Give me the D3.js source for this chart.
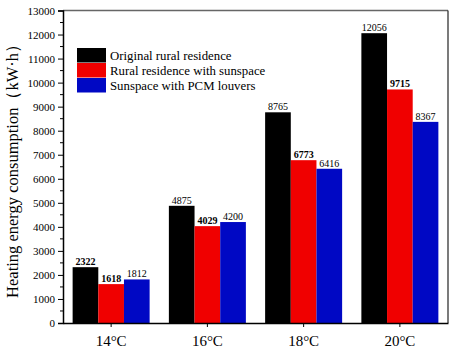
<!DOCTYPE html>
<html>
<head>
<meta charset="utf-8">
<script src="https://cdn.jsdelivr.net/npm/d3@7"></script>
<style>
  body { margin: 0; background: #fff; }
  svg text { font-family: "Liberation Serif", "Times New Roman", serif; }
</style>
</head>
<body>
<svg id="chart" width="454" height="359"></svg>
<script>
// data
var temps = ["14°C", "16°C", "18°C", "20°C"];
var series = ["Original rural residence", "Rural residence with sunspace", "Sunspace with PCM louvers"];
var original = [2322, 4875, 8765, 12056];
var sunspace = [1618, 4029, 6773, 9715];
var pcm = [1812, 4200, 6416, 8367];
var yTicks = [0, 1000, 2000, 3000, 4000, 5000, 6000, 7000, 8000, 9000, 10000, 11000, 12000, 13000];

var colors = ["#000000", "#f00000", "#0008c4"];
var values = [original, sunspace, pcm];

var svg = d3.select("#chart");
// plot box (note: "top" is taken by window.top, so use other names)
var padL = 63, padR = 448, padT = 10.5, padB = 323;

var x = d3.scaleBand().domain(temps).range([padL, padR]).padding(0);
var bw = x.bandwidth();
var xs = d3.scaleBand().domain(series).range([bw * 0.1, bw * 0.9]).padding(0);
var y = d3.scaleLinear().domain([0, 13000]).range([padB, padT]);

// frame (top and right)
svg.append("line").attr("x1", padL).attr("x2", padR).attr("y1", padT).attr("y2", padT)
  .attr("stroke", "#666").attr("stroke-width", 1.5);
svg.append("line").attr("x1", padR).attr("x2", padR).attr("y1", padT).attr("y2", padB)
  .attr("stroke", "#222").attr("stroke-width", 1.2);

// bars
var rows = [];
temps.forEach(function(t, i) {
  series.forEach(function(s, j) {
    rows.push({t: t, s: s, j: j, v: values[j][i]});
  });
});

svg.append("g").selectAll("rect").data(rows).join("rect")
  .attr("x", function(d) { return x(d.t) + xs(d.s); })
  .attr("y", function(d) { return y(d.v); })
  .attr("width", xs.bandwidth())
  .attr("height", function(d) { return padB - y(d.v); })
  .attr("fill", function(d) { return colors[d.j]; });

// value labels (some of them are bold in the original)
var boldOnes = [2322, 1618, 4029, 6773, 9715];
svg.append("g").selectAll("text").data(rows).join("text")
  .attr("x", function(d) { return x(d.t) + xs(d.s) + xs.bandwidth() / 2; })
  .attr("y", function(d) { return y(d.v) - 2; })
  .attr("text-anchor", "middle")
  .attr("font-size", 10)
  .attr("font-weight", function(d) { return boldOnes.indexOf(d.v) >= 0 ? "bold" : "normal"; })
  .text(function(d) { return d.v; });

// y axis
var yAxis = svg.append("g").attr("transform", "translate(" + padL + ",0)")
  .call(d3.axisLeft(y).tickValues(yTicks).tickSize(5).tickPadding(3).tickFormat(d3.format("d")));
yAxis.select(".domain").attr("stroke-width", 1.5);
yAxis.selectAll("text").attr("font-size", 11).attr("fill", "#000");
// minor ticks
svg.append("g").selectAll("line").data(yTicks.slice(0, -1)).join("line")
  .attr("x1", padL - 3).attr("x2", padL)
  .attr("y1", function(d) { return y(d + 500); })
  .attr("y2", function(d) { return y(d + 500); })
  .attr("stroke", "#000");

// x axis
var xAxis = svg.append("g").attr("transform", "translate(0," + padB + ")")
  .call(d3.axisBottom(x).tickSize(4).tickPadding(8).tickSizeOuter(0));
xAxis.select(".domain").attr("stroke-width", 1.5);
xAxis.selectAll("text").attr("font-size", 15).attr("fill", "#000");

// y title
svg.append("text")
  .attr("transform", "translate(18," + 167 + ") rotate(-90)")
  .attr("text-anchor", "middle")
  .attr("font-size", 16.5)
  .text("Heating energy consumption（kW·h）");

// legend
var legend = svg.append("g").attr("transform", "translate(77,48)");
var lg = legend.selectAll("g").data(series).join("g")
  .attr("transform", function(d, i) { return "translate(0," + (i * 15) + ")"; });
lg.append("rect").attr("width", 29).attr("height", 14.5)
  .attr("fill", function(d, i) { return colors[i]; });
lg.append("text").attr("x", 33).attr("y", 11.5).attr("font-size", 12.8).text(function(d) { return d; });
</script>
</body>
</html>
